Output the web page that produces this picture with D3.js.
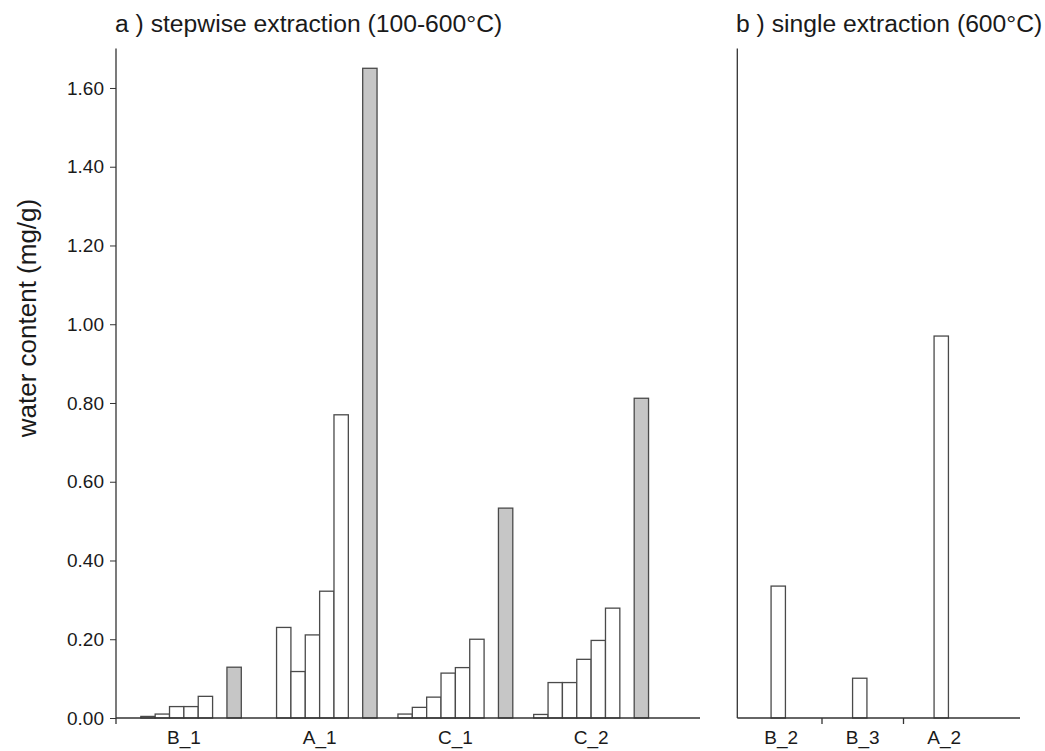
<!DOCTYPE html>
<html>
<head>
<meta charset="utf-8">
<script src="https://cdn.jsdelivr.net/npm/d3@7"></script>
<style>
  body { margin: 0; background: #fff; }
  text { font-family: "Liberation Sans", Arial, sans-serif; fill: #1a1a1a; }
</style>
</head>
<body>
<svg width="1045" height="751"></svg>
<script>
// panel a: stepwise extraction, one value per step + total
const groupsA = ["B_1", "A_1", "C_1", "C_2"];
const steps = ["100", "200", "300", "400", "500", "600", "gap", "total"];
const stepValues = {
  B_1: [0, 0.004, 0.010, 0.029, 0.029, 0.055],
  A_1: [0, 0.230, 0.118, 0.211, 0.322, 0.770],
  C_1: [0.010, 0.027, 0.053, 0.114, 0.128, 0.200],
  C_2: [0.009, 0.090, 0.090, 0.149, 0.197, 0.279]
};
const totals = [0.129, 1.650, 0.533, 0.812];

// panel b: single extraction
const groupsB = ["B_2", "B_3", "A_2"];
const singleValues = [0.335, 0.101, 0.970];

const yTicks = [0, 0.2, 0.4, 0.6, 0.8, 1.0, 1.2, 1.4, 1.6];

const main = function() {
  const svg = d3.select("svg");
  const stroke = "#4a4a4a";
  const axisColor = "#333";

  const y = d3.scaleLinear().domain([0, 1.7]).range([718, 48.6]);

  // ---- panel a ----
  const x0 = d3.scaleBand()
    .domain(groupsA)
    .range([116, 659])
    .paddingInner(0.154)
    .paddingOuter(0.077);
  const x1 = d3.scaleBand().domain(steps).range([0, x0.bandwidth()]);

  const barsA = [];
  groupsA.forEach((g, i) => {
    stepValues[g].forEach((v, j) => barsA.push({ g, step: steps[j], v, total: false }));
    barsA.push({ g, step: "total", v: totals[i], total: true });
  });

  const gA = svg.append("g");
  gA.selectAll("rect")
    .data(barsA.filter(d => d.v > 0))
    .enter()
    .append("rect")
    .attr("x", d => x0(d.g) + x1(d.step))
    .attr("y", d => y(d.v))
    .attr("width", x1.bandwidth())
    .attr("height", d => y(0) - y(d.v))
    .attr("fill", d => (d.total ? "#c6c6c6" : "#fff"))
    .attr("stroke", stroke)
    .attr("stroke-width", 1.3);

  const yAxis = gA.append("g")
    .attr("transform", "translate(116,0)")
    .call(d3.axisLeft(y).tickValues(yTicks).tickFormat(d3.format(".2f")).tickSize(6).tickPadding(6).tickSizeOuter(0));
  yAxis.select(".domain").remove();
  yAxis.selectAll("line").attr("stroke", axisColor);
  yAxis.selectAll("text").style("font-size", "19px").attr("fill", "#1a1a1a");
  gA.append("line")
    .attr("x1", 116).attr("x2", 116)
    .attr("y1", y(1.7)).attr("y2", y(0) + 6)
    .attr("stroke", axisColor).attr("stroke-width", 1.3);

  const xAxisA = gA.append("g")
    .attr("transform", `translate(0,${y(0)})`)
    .call(d3.axisBottom(x0).tickSize(0).tickPadding(13));
  xAxisA.select(".domain").remove();
  xAxisA.selectAll("text").style("font-size", "19px").attr("fill", "#1a1a1a");
  gA.append("line")
    .attr("x1", 116).attr("x2", 700)
    .attr("y1", y(0)).attr("y2", y(0))
    .attr("stroke", axisColor).attr("stroke-width", 1.3);

  // ---- panel b ----
  const xb = d3.scaleBand().domain(groupsB).range([740.5, 985]);
  const barW = x1.bandwidth();
  const gB = svg.append("g");
  gB.selectAll("rect")
    .data(groupsB.map((g, i) => ({ g, v: singleValues[i] })))
    .enter()
    .append("rect")
    .attr("x", d => xb(d.g) + xb.bandwidth() / 2 - barW / 2 - 3)
    .attr("y", d => y(d.v))
    .attr("width", barW)
    .attr("height", d => y(0) - y(d.v))
    .attr("fill", "#fff")
    .attr("stroke", stroke)
    .attr("stroke-width", 1.3);

  const xAxisB = gB.append("g")
    .attr("transform", `translate(0,${y(0)})`)
    .call(d3.axisBottom(xb).tickSize(0).tickPadding(13));
  xAxisB.select(".domain").remove();
  xAxisB.selectAll("text").style("font-size", "19px").attr("fill", "#1a1a1a");
  gB.selectAll(".sep")
    .data(groupsB.slice(1))
    .enter()
    .append("line")
    .attr("x1", d => xb(d)).attr("x2", d => xb(d))
    .attr("y1", y(0)).attr("y2", y(0) + 6)
    .attr("stroke", axisColor).attr("stroke-width", 1.3);
  gB.append("line")
    .attr("x1", 737.3).attr("x2", 1020)
    .attr("y1", y(0)).attr("y2", y(0))
    .attr("stroke", axisColor).attr("stroke-width", 1.3);
  gB.append("line")
    .attr("x1", 737.3).attr("x2", 737.3)
    .attr("y1", y(1.7)).attr("y2", y(0))
    .attr("stroke", axisColor).attr("stroke-width", 1.3);

  // titles
  svg.append("text")
    .attr("x", 115).attr("y", 32)
    .style("font-size", "24.7px")
    .text("a ) stepwise extraction (100-600°C)");
  svg.append("text")
    .attr("x", 736).attr("y", 32)
    .style("font-size", "24.7px")
    .text("b ) single extraction (600°C)");
  svg.append("text")
    .attr("transform", "translate(36,318) rotate(-90)")
    .attr("text-anchor", "middle")
    .style("font-size", "26px")
    .text("water content (mg/g)");
};

window.onload = main;
</script>
</body>
</html>
